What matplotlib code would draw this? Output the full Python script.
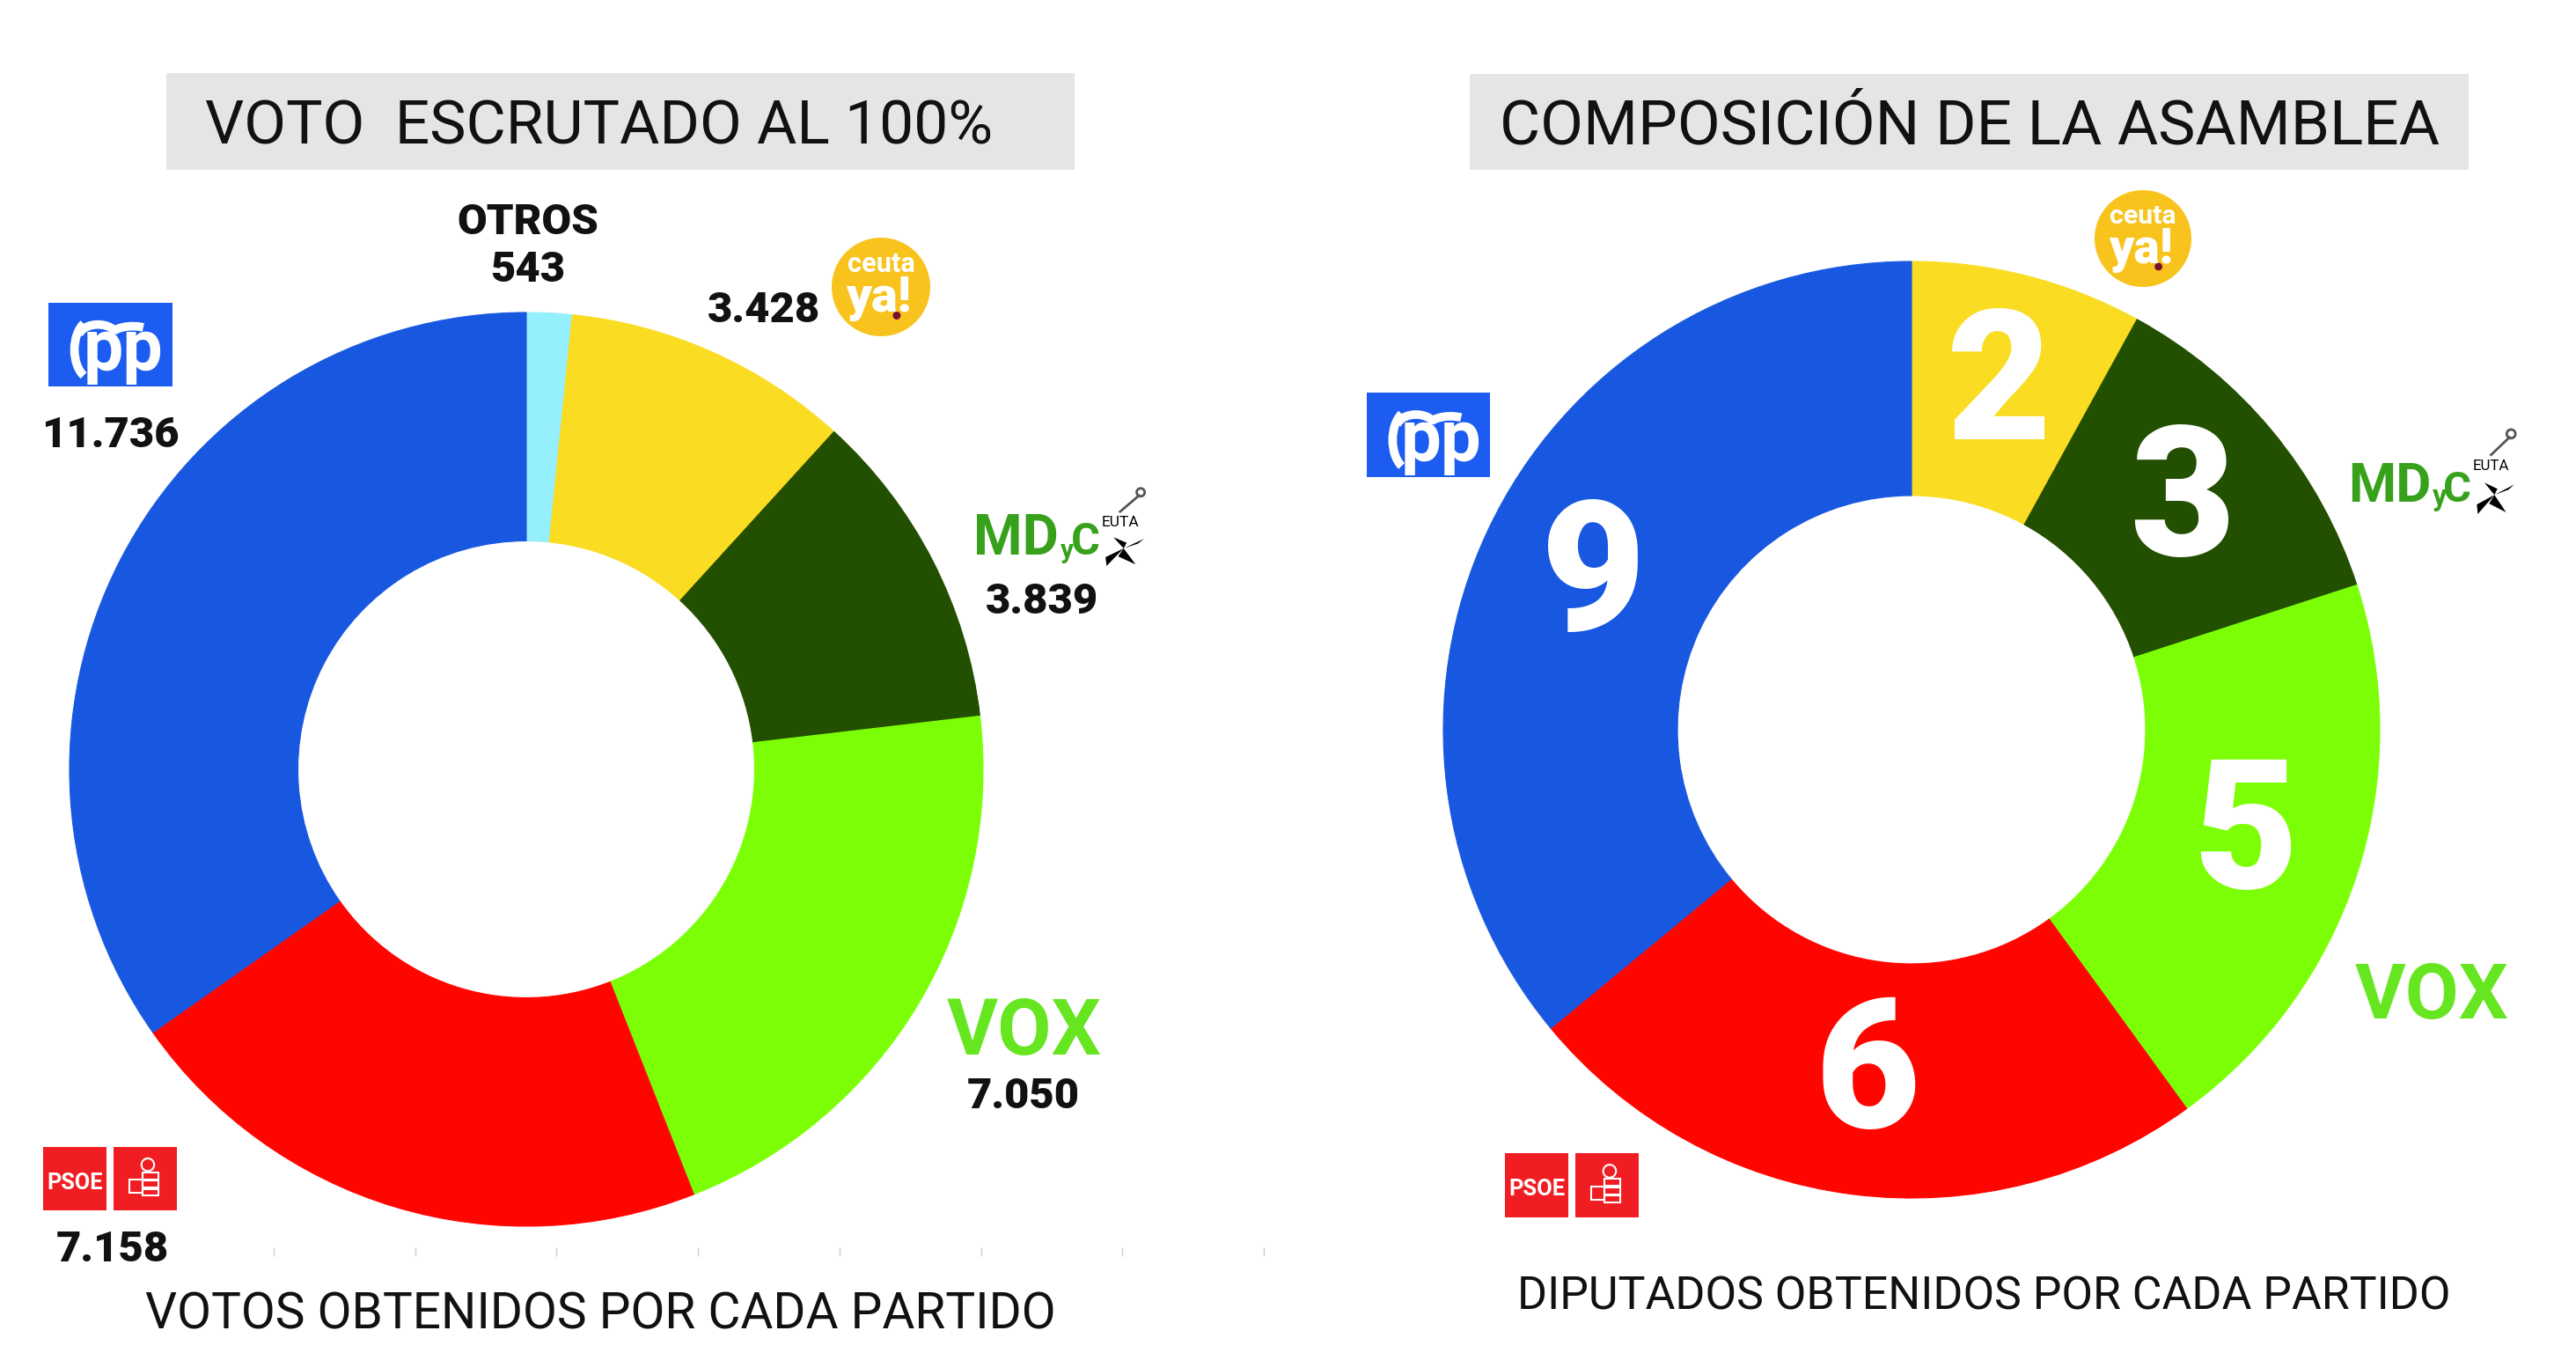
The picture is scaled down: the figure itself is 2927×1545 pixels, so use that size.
import matplotlib
matplotlib.use("Agg")
import matplotlib.pyplot as plt
from matplotlib.patches import Rectangle, Circle, Arc, Polygon

# ---- data ----
vote_parties = ["OTROS", "Ceuta Ya!", "MDyC", "VOX", "PSOE", "PP"]
votes = [543, 3428, 3839, 7050, 7158, 11736]

seat_parties = ["Ceuta Ya!", "MDyC", "VOX", "PSOE", "PP"]
seats = [2, 3, 5, 6, 9]

partyColors = {
    "OTROS": "#95EFFC",
    "Ceuta Ya!": "#FADC22",
    "MDyC": "#234F00",
    "VOX": "#7CFF06",
    "PSOE": "#FF0500",
    "PP": "#1858E0",
}

W, H = 2927, 1545
plt.rcParams['font.family'] = ['Roboto', 'DejaVu Sans']

fig = plt.figure(figsize=(W / 100, H / 100), dpi=100)
fig.patch.set_facecolor("white")
renderer = fig.canvas.get_renderer()


def pt(px):
    # pixel height -> font points at dpi 100
    return px * 0.72


def fitWidth(t, target):
    bb = t.get_window_extent(renderer=renderer)
    t.set_fontsize(t.get_fontsize() * target / bb.width)
    return t


def donutAxes(cx, cy, r):
    return fig.add_axes([(cx - r) / W, 1 - (cy + r) / H, 2 * r / W, 2 * r / H])


# ---- left donut: votes ----
axLeft = donutAxes(598, 874, 519)
axLeft.pie(votes, colors=[partyColors[p] for p in vote_parties], startangle=90,
           counterclock=False, radius=1, wedgeprops=dict(width=0.5, linewidth=0.8))
for w, p in zip(axLeft.patches, vote_parties):
    w.set_edgecolor(partyColors[p])
axLeft.set_xlim(-1, 1)
axLeft.set_ylim(-1, 1)
axLeft.axis("off")

# ---- right donut: seats ----
axRight = donutAxes(2172, 829, 532)
wedges, texts, autotexts = axRight.pie(
    seats, colors=[partyColors[p] for p in seat_parties], startangle=90,
    counterclock=False, radius=1,
    autopct=lambda p: "%d" % round(p * sum(seats) / 100), pctdistance=0.75,
    wedgeprops=dict(width=0.5, linewidth=0.8),
    textprops=dict(color="white", fontsize=148, fontweight="black"))
for w, p in zip(wedges, seat_parties):
    w.set_edgecolor(partyColors[p])
axRight.set_xlim(-1, 1)
axRight.set_ylim(-1, 1)
axRight.axis("off")

# ---- faint ticks under the left chart ----
axTicks = fig.add_axes([311 / W, 1 - 1417 / H, (1436 - 311) / W, 0.001])
axTicks.set_xlim(0, 7)
axTicks.set_xticks(range(8))
axTicks.set_yticks([])
axTicks.tick_params(axis="x", direction="out", length=7, width=1, color="#cccccc", labelbottom=False)
for s in axTicks.spines.values():
    s.set_visible(False)
axTicks.patch.set_alpha(0)

# ---- overlay in pixel coordinates for titles, labels and logos ----
ov = fig.add_axes([0, 0, 1, 1])
ov.set_xlim(0, W)
ov.set_ylim(H, 0)
ov.axis("off")
ov.patch.set_alpha(0)
ov.set_zorder(5)

# title boxes
ov.add_patch(Rectangle((189, 83), 1032, 110, color="#E5E5E5", lw=0))
ov.add_patch(Rectangle((1670, 84), 1135, 109, color="#E5E5E5", lw=0))
fitWidth(ov.text(681, 164, "VOTO  ESCRUTADO AL 100%", ha="center", va="baseline",
                 fontsize=pt(70), color="#111111"), 895)
fitWidth(ov.text(2238, 163, "COMPOSICIÓN DE LA ASAMBLEA", ha="center", va="baseline",
                 fontsize=pt(70), color="#111111"), 1068)

fitWidth(ov.text(682, 1510, "VOTOS OBTENIDOS POR CADA PARTIDO", ha="center", va="baseline",
                 fontsize=pt(58), color="#111111"), 1035)
fitWidth(ov.text(2254, 1488, "DIPUTADOS OBTENIDOS POR CADA PARTIDO", ha="center", va="baseline",
                 fontsize=pt(53), color="#111111"), 1063)

# vote numbers
voteLabelPos = {
    "OTROS": (600, 320),
    "Ceuta Ya!": (868, 366),
    "MDyC": (1184, 697),
    "VOX": (1163, 1259),
    "PSOE": (128, 1433),
    "PP": (125, 508),
}
for p, v in zip(vote_parties, votes):
    x, y = voteLabelPos[p]
    ov.text(x, y, "{:,}".format(v).replace(",", "."), ha="center", va="baseline",
            fontsize=pt(49), fontweight="black", color="#111111")
ov.text(600, 266, "OTROS", ha="center", va="baseline", fontsize=pt(49),
        fontweight="black", color="#111111")


# ---- logos ----
def ppLogo(x0, y0, w, h):
    ov.add_patch(Rectangle((x0, y0), w, h, color="#1C5CF0", lw=0))
    ov.text(x0 + 0.6 * w, y0 + 0.8 * h, "pp", color="white", ha="center", va="baseline",
            fontsize=pt(h * 0.85), fontweight="bold")
    ov.add_patch(Arc((x0 + 0.36 * w, y0 + 0.56 * h), 0.3 * w, 0.72 * h, theta1=110, theta2=250,
                     color="white", lw=7))
    ov.add_patch(Arc((x0 + 0.4 * w, y0 + 0.42 * h), 0.32 * w, 0.32 * h, theta1=190, theta2=345,
                     color="white", lw=7))
    ov.add_patch(Arc((x0 + 0.68 * w, y0 + 0.4 * h), 0.36 * w, 0.24 * h, theta1=195, theta2=320,
                     color="white", lw=7))


def psoeLogo(x0, y0, w, h):
    bw = 0.475 * w
    ov.add_patch(Rectangle((x0, y0), bw, h, color="#F01E23", lw=0))
    ov.add_patch(Rectangle((x0 + w - bw, y0), bw, h, color="#F01E23", lw=0))
    fitWidth(ov.text(x0 + bw / 2, y0 + 0.66 * h, "PSOE", color="white", ha="center", va="baseline",
                     fontsize=pt(h * 0.36), fontweight="bold"), bw * 0.88)
    cx = x0 + w - bw / 2
    ov.add_patch(Circle((cx + 0.02 * w, y0 + 0.28 * h), 0.1 * h, fill=False, ec="white", lw=1.5))
    for k in range(3):
        ov.add_patch(Rectangle((cx - 0.02 * w, y0 + (0.4 + 0.13 * k) * h), 0.12 * w, 0.11 * h,
                               fill=False, ec="white", lw=1.5))
    ov.add_patch(Rectangle((cx - 0.12 * w, y0 + 0.52 * h), 0.1 * w, 0.2 * h,
                           fill=False, ec="white", lw=1.5))


def voxLogo(x0, y0, w, h):
    fitWidth(ov.text(x0 + w / 2, y0 + h, "VOX", color="#66E620", ha="center", va="baseline",
                     fontsize=pt(h * 1.15), fontweight="bold"), w)


def ceutaLogo(cx, cy, r):
    ov.add_patch(Circle((cx, cy), r, color="#F8C31D", lw=0))
    ov.text(cx, cy - 0.3 * r, "ceuta", color="white", ha="center", va="baseline",
            fontsize=pt(r * 0.55), fontweight="bold")
    ov.text(cx - 0.05 * r, cy + 0.5 * r, "ya!", color="white", ha="center", va="baseline",
            fontsize=pt(r * 1.0), fontweight="black")
    ov.add_patch(Circle((cx + 0.32 * r, cy + 0.58 * r), 0.08 * r, color="#7A1030", lw=0))


def mdycLogo(x0, y0, w, h):
    green = "#37A11B"
    base = y0 + 0.86 * h
    fitWidth(ov.text(x0, base, "MD", color=green, ha="left", va="baseline",
                     fontsize=pt(h * 1.0), fontweight="bold"), 0.5 * w)
    ov.text(x0 + 0.51 * w, base + 0.04 * h, "y", color=green, ha="left", va="baseline",
            fontsize=pt(h * 0.33), fontweight="bold")
    fitWidth(ov.text(x0 + 0.57 * w, base, "C", color=green, ha="left", va="baseline",
                     fontsize=pt(h * 1.0), fontweight="bold"), 0.17 * w)
    fitWidth(ov.text(x0 + 0.75 * w, y0 + 0.5 * h, "EUTA", color="black", ha="left", va="baseline",
                     fontsize=pt(h * 0.22)), 0.22 * w)
    px, py = x0 + 0.88 * w, y0 + 0.78 * h
    for dx, dy in [(0.12, -0.12), (0.07, 0.2), (-0.1, 0.22), (-0.06, -0.14)]:
        ov.add_patch(Polygon([(px, py), (px + dx * w, py + dy * h),
                              (px + dx * w * 0.4 - dy * w * 0.3, py + dy * h * 0.5)],
                             color="black", lw=0))
    ov.plot([x0 + 0.86 * w, x0 + 0.97 * w], [y0 + 0.32 * h, y0 + 0.12 * h], color="#555555", lw=2)
    ov.add_patch(Circle((x0 + 0.98 * w, y0 + 0.08 * h), 0.05 * h, fill=False, ec="#555555", lw=2))


ppLogo(55, 344, 141, 95)
ppLogo(1553, 446, 140, 96)
psoeLogo(49, 1303, 152, 72)
psoeLogo(1710, 1310, 152, 73)
voxLogo(1076, 1115, 176, 83)
voxLogo(2676, 1074, 175, 83)
ceutaLogo(1001, 326, 56)
ceutaLogo(2435, 271, 55)
mdycLogo(1106, 552, 194, 91)
mdycLogo(2668, 485, 189, 99)

fig.savefig("out.png", dpi=100)
